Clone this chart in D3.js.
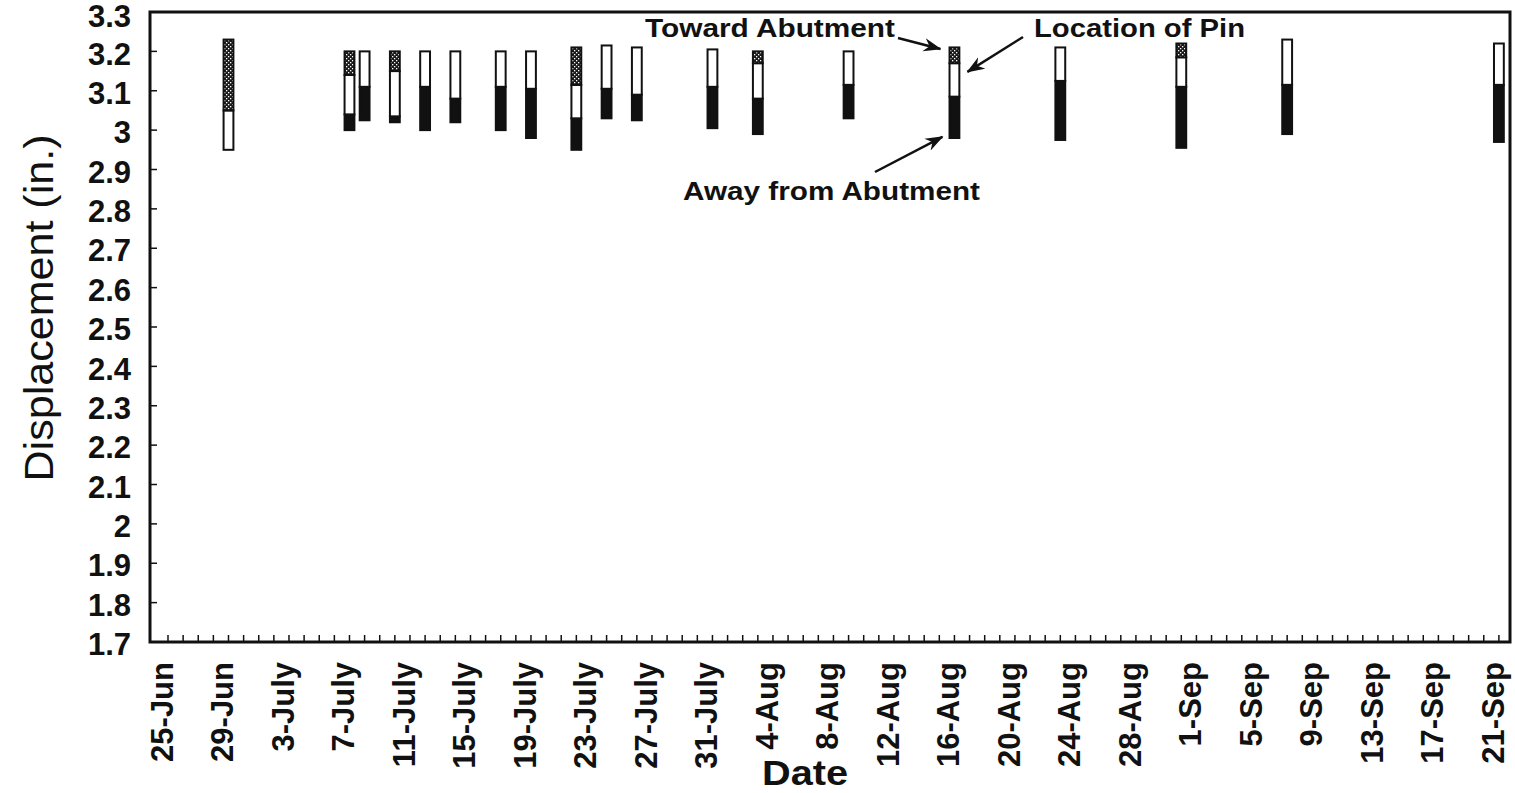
<!DOCTYPE html>
<html>
<head>
<meta charset="utf-8">
<script src="https://cdn.jsdelivr.net/npm/d3@7"></script>
<style>
body { margin: 0; background: #fff; }
text { font-family: "Liberation Sans", Arial, sans-serif; fill: #111; }
</style>
</head>
<body>
<div id="chart"></div>
<script>
(function () {

// measurement dates
const barDates = ["29-Jun", "7-July", "8-July", "10-July", "12-July", "14-July", "17-July",
  "19-July", "22-July", "24-July", "26-July", "31-July", "3-Aug", "9-Aug", "16-Aug",
  "23-Aug", "31-Aug", "7-Sep", "21-Sep"];
// bottom of bar (in.)
const bottoms  = [2.95, 3.00, 3.025, 3.02, 3.00, 3.02, 3.00, 2.98, 2.95, 3.03, 3.025,
  3.005, 2.99, 3.03, 2.98, 2.975, 2.955, 2.99, 2.97];
// top of black part (away from abutment)
const awayTops = [2.95, 3.04, 3.11, 3.035, 3.11, 3.08, 3.11, 3.105, 3.03, 3.105, 3.09,
  3.11, 3.08, 3.115, 3.085, 3.125, 3.11, 3.115, 3.115];
// top of white part (location of pin)
const pinTops  = [3.05, 3.14, 3.20, 3.15, 3.20, 3.20, 3.20, 3.20, 3.115, 3.215, 3.21,
  3.205, 3.17, 3.20, 3.17, 3.21, 3.185, 3.23, 3.22];
// top of bar (toward abutment)
const tops     = [3.23, 3.20, 3.20, 3.20, 3.20, 3.20, 3.20, 3.20, 3.21, 3.215, 3.21,
  3.205, 3.20, 3.20, 3.21, 3.21, 3.22, 3.23, 3.22];

const xTickLabels = ["25-Jun", "29-Jun", "3-July", "7-July", "11-July", "15-July", "19-July",
  "23-July", "27-July", "31-July", "4-Aug", "8-Aug", "12-Aug", "16-Aug", "20-Aug", "24-Aug",
  "28-Aug", "1-Sep", "5-Sep", "9-Sep", "13-Sep", "17-Sep", "21-Sep"];
const yTicks = [1.7, 1.8, 1.9, 2, 2.1, 2.2, 2.3, 2.4, 2.5, 2.6, 2.7, 2.8, 2.9, 3, 3.1, 3.2, 3.3];

const monthIdx = {Jun: 5, July: 6, Aug: 7, Sep: 8};
function parseDay(s) {
  const p = s.split("-");
  return new Date(Date.UTC(1997, monthIdx[p[1]], +p[0]));
}
const DAY = 864e5;
const firstDay = parseDay(xTickLabels[0]);
const lastDay = parseDay(xTickLabels[xTickLabels.length - 1]);

const left = 150, right = 1510, top = 12, bottom = 642;

const svg = d3.select("#chart").append("svg")
    .attr("width", 1515)
    .attr("height", 793);

const x = d3.scaleUtc()
  .domain([new Date(+firstDay - 1.19 * DAY), new Date(+lastDay + 0.8 * DAY)])
  .range([left, right + 1]);
const y = d3.scaleLinear().domain([1.7, 3.3]).range([bottom, top]);

// hatch for "toward abutment"
const pat = svg.append("defs").append("pattern")
  .attr("id", "hatch").attr("patternUnits", "userSpaceOnUse")
  .attr("width", 4).attr("height", 4);
pat.append("rect").attr("width", 4).attr("height", 4).attr("fill", "#1a1a1a");
pat.append("rect").attr("x", 0).attr("y", 0).attr("width", 1.3).attr("height", 1.3).attr("fill", "#fff");
pat.append("rect").attr("x", 2).attr("y", 2).attr("width", 1.3).attr("height", 1.3).attr("fill", "#fff");

svg.select("defs").append("marker")
  .attr("id", "arrow").attr("markerUnits", "userSpaceOnUse")
  .attr("viewBox", "0 0 16 12").attr("refX", 15).attr("refY", 6)
  .attr("markerWidth", 18).attr("markerHeight", 14).attr("orient", "auto")
  .append("path").attr("d", "M0,0 L16,6 L0,12 L5,6 Z").attr("fill", "#111");

// frame
svg.append("rect")
  .attr("x", left).attr("y", top)
  .attr("width", right - left).attr("height", bottom - top)
  .attr("fill", "none").attr("stroke", "#111").attr("stroke-width", 3);

// y ticks (inside)
svg.selectAll(".ytick")
  .data(yTicks.slice(1, -1))
  .join("line")
  .attr("x1", left).attr("x2", left + 7)
  .attr("y1", d => y(d)).attr("y2", d => y(d))
  .attr("stroke", "#111").attr("stroke-width", 1.5);

svg.selectAll(".ylab")
  .data(yTicks)
  .join("text")
  .attr("x", 131).attr("y", d => Math.max(y(d) + 2, 16))
  .attr("dy", "0.36em")
  .attr("text-anchor", "end")
  .attr("font-size", 31).attr("font-weight", "bold")
  .text(d => String(+d.toFixed(1)));

// x day ticks (inside)
const days = d3.utcDay.range(firstDay, new Date(+lastDay + DAY));
svg.selectAll(".xtick")
  .data(days)
  .join("line")
  .attr("x1", d => x(d)).attr("x2", d => x(d))
  .attr("y1", bottom).attr("y2", bottom - 7)
  .attr("stroke", "#111").attr("stroke-width", 1.5);

svg.selectAll(".xlab")
  .data(xTickLabels)
  .join("text")
  .attr("transform", d => "translate(" + x(parseDay(d)) + ",662) rotate(-90)")
  .attr("dy", "0.15em")
  .attr("text-anchor", "end")
  .attr("font-size", 31).attr("font-weight", "bold")
  .text(d => d);

// axis titles
svg.append("text")
  .attr("x", 805).attr("y", 785)
  .attr("text-anchor", "middle")
  .attr("font-size", 35).attr("font-weight", "bold")
  .attr("textLength", 86).attr("lengthAdjust", "spacingAndGlyphs")
  .text("Date");

svg.append("text")
  .attr("transform", "translate(53,308) rotate(-90)")
  .attr("text-anchor", "middle")
  .attr("font-size", 40)
  .attr("textLength", 347).attr("lengthAdjust", "spacingAndGlyphs")
  .text("Displacement (in.)");

// bars
const bars = barDates.map((d, i) => ({
  date: parseDay(d), b: bottoms[i], a: awayTops[i], p: pinTops[i], t: tops[i]
}));
const bw = (x(new Date(+firstDay + DAY)) - x(firstDay)) * 0.65;

const g = svg.append("g");
function seg(cls, fill, lo, hi) {
  g.selectAll("." + cls)
    .data(bars.filter(d => hi(d) > lo(d)))
    .join("rect")
    .attr("class", cls)
    .attr("x", d => x(d.date) - bw / 2)
    .attr("width", bw)
    .attr("y", d => y(hi(d)))
    .attr("height", d => y(lo(d)) - y(hi(d)))
    .attr("fill", fill)
    .attr("stroke", "#111").attr("stroke-width", 2);
}
seg("away", "#111", d => d.b, d => d.a);
seg("pin", "#fff", d => d.a, d => d.p);
seg("toward", "url(#hatch)", d => d.p, d => d.t);

// annotations, pointing at the 16-Aug bar
const ref = x(parseDay("16-Aug"));
const notes = [
  {text: "Toward Abutment", tx: 645, ty: 37, len: 250, x1: 898, y1: 38, x2: ref - 14, y2: y(3.206)},
  {text: "Location of Pin", tx: 1034, ty: 37, len: 211, x1: 1023, y1: 37, x2: ref + 13, y2: y(3.148)},
  {text: "Away from Abutment", tx: 683, ty: 200, len: 297, x1: 875, y1: 172, x2: ref - 12, y2: y(2.983)}
];
svg.selectAll(".note")
  .data(notes)
  .join("text")
  .attr("x", d => d.tx).attr("y", d => d.ty)
  .attr("font-size", 25).attr("font-weight", "bold")
  .attr("textLength", d => d.len).attr("lengthAdjust", "spacingAndGlyphs")
  .text(d => d.text);

svg.selectAll(".arrow")
  .data(notes)
  .join("line")
  .attr("x1", d => d.x1).attr("y1", d => d.y1)
  .attr("x2", d => d.x2).attr("y2", d => d.y2)
  .attr("stroke", "#111").attr("stroke-width", 2.5)
  .attr("marker-end", "url(#arrow)");

})();
</script>
</body>
</html>
